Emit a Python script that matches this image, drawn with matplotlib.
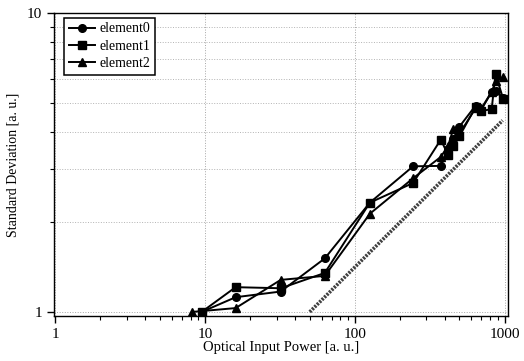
import numpy as np
import matplotlib
matplotlib.use('Agg')
import matplotlib.pyplot as plt
from matplotlib.ticker import LogLocator, NullFormatter, FixedLocator, FixedFormatter

plt.rcParams['font.family'] = ['Liberation Serif', 'DejaVu Serif']

# data
x0 = [9.5, 16, 32, 63, 126, 245, 375, 420, 455, 500, 640, 700, 820, 870, 980]
y0 = [1.00, 1.12, 1.17, 1.51, 2.32, 3.07, 3.08, 3.50, 3.80, 4.17, 4.90, 4.75, 5.45, 5.50, 5.20]

x1 = [9.5, 16, 32, 63, 126, 245, 375, 420, 455, 500, 640, 700, 820, 870, 980]
y1 = [1.00, 1.21, 1.20, 1.35, 2.32, 2.70, 3.77, 3.35, 3.60, 3.87, 4.85, 4.70, 4.77, 6.25, 5.15]

x2 = [8.2, 16, 32, 63, 126, 245, 375, 420, 455, 500, 640, 700, 820, 870, 980]
y2 = [1.00, 1.03, 1.28, 1.32, 2.13, 2.80, 3.30, 3.60, 4.10, 3.95, 4.80, 4.80, 5.45, 5.90, 6.10]

x_ref = [50, 970]
y_ref = [1.0, 4.37]

xticks = [1, 10, 100, 1000]
xlabels = ['1', '10', '100', '1000']
yticks = [1, 10]
ylabels = ['1', '10']

fig = plt.figure(figsize=(5.24, 3.61), dpi=100)
ax = fig.add_axes([0.103, 0.125, 0.866, 0.839])

ax.plot(x_ref, y_ref, color='0.25', lw=2.6, linestyle=(0, (0.6, 0.35)), zorder=2)

ax.plot(x0, y0, 'k-', marker='o', ms=5.5, lw=1.4, label='element0', zorder=3)
ax.plot(x1, y1, 'k-', marker='s', ms=5.5, lw=1.4, label='element1', zorder=3)
ax.plot(x2, y2, 'k-', marker='^', ms=5.5, lw=1.4, label='element2', zorder=3)

ax.set_xscale('log')
ax.set_yscale('log')
ax.set_xlim(0.98, 1050)
ax.set_ylim(0.97, 10.0)

ax.xaxis.set_major_locator(FixedLocator(xticks))
ax.xaxis.set_major_formatter(FixedFormatter(xlabels))
ax.xaxis.set_minor_locator(LogLocator(base=10, subs=np.arange(2, 10)))
ax.xaxis.set_minor_formatter(NullFormatter())
ax.yaxis.set_major_locator(FixedLocator(yticks))
ax.yaxis.set_major_formatter(FixedFormatter(ylabels))
ax.yaxis.set_minor_locator(LogLocator(base=10, subs=np.arange(2, 10)))
ax.yaxis.set_minor_formatter(NullFormatter())

ax.tick_params(which='major', direction='out', length=5, width=1, labelsize=11, colors='k')
ax.tick_params(which='minor', direction='out', length=3, width=0.8)

ax.grid(True, which='major', axis='both', color='0.65', linestyle=':', lw=0.7)
ax.grid(True, which='minor', axis='y', color='0.7', linestyle=':', lw=0.7)

for s in ax.spines.values():
    s.set_linewidth(1.0)

ax.set_xlabel('Optical Input Power [a. u.]', fontsize=10.5, labelpad=0)
ax.set_ylabel('Standard Deviation [a. u.]', fontsize=10, labelpad=5)

leg = ax.legend(loc='upper left', bbox_to_anchor=(0.022, 0.985), borderaxespad=0,
                fontsize=10, frameon=True, fancybox=False,
                edgecolor='k', framealpha=1, borderpad=0.35, labelspacing=0.3,
                handlelength=1.9, handletextpad=0.3)
leg.get_frame().set_linewidth(1.1)

fig.savefig('out.png', dpi=100)
